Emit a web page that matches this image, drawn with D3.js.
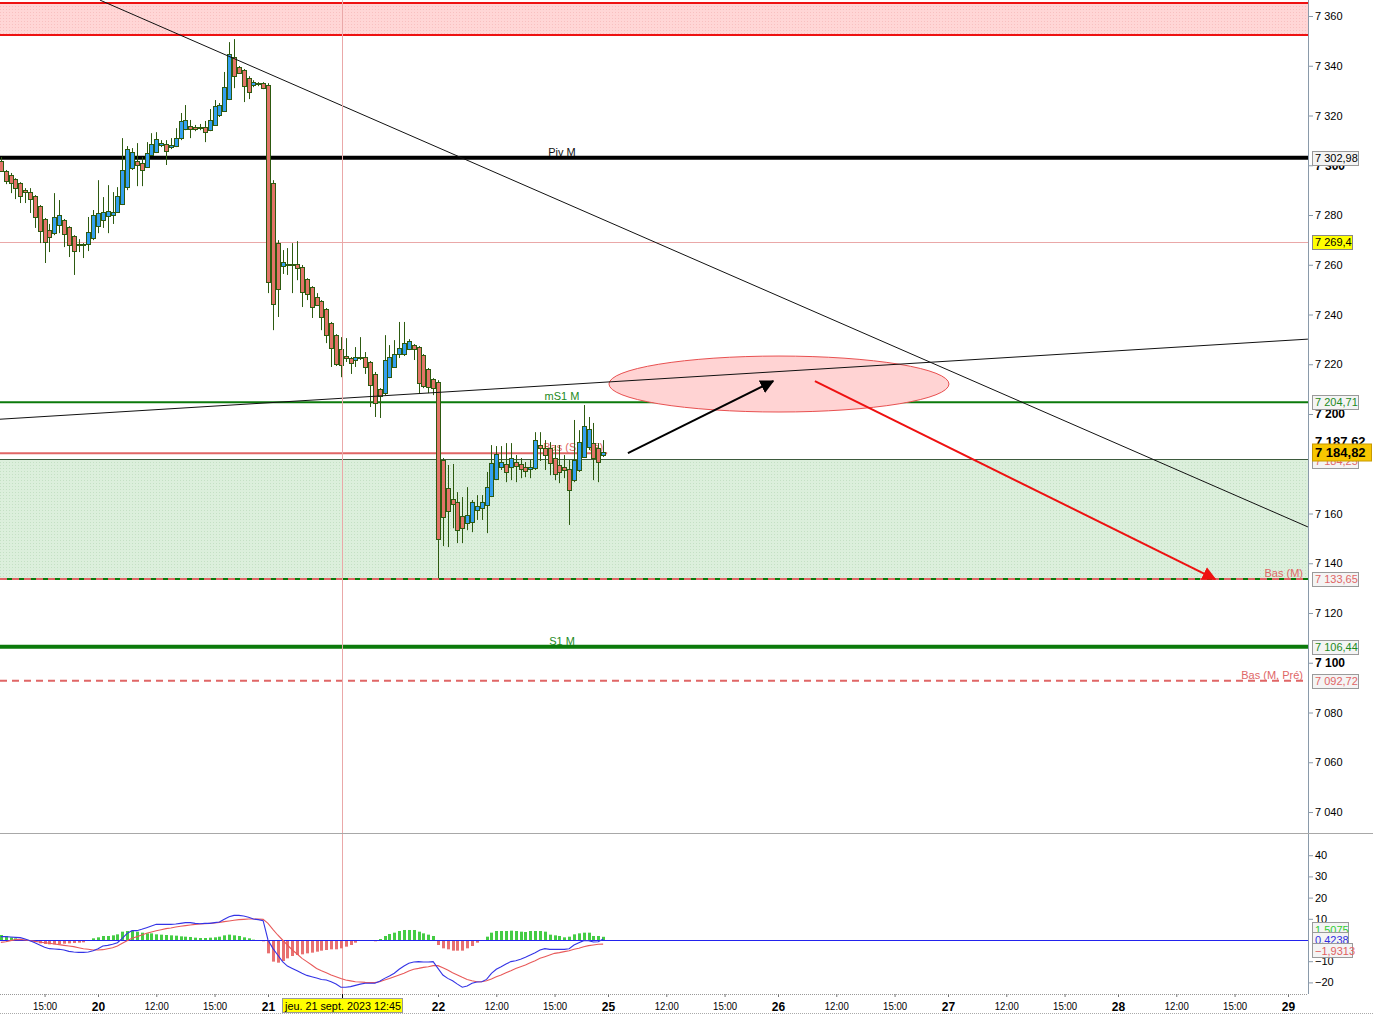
<!DOCTYPE html>
<html><head><meta charset="utf-8">
<script src="https://cdn.jsdelivr.net/npm/d3@7"></script>
<style>
body{margin:0;background:#fff;}
svg{display:block;font-family:"Liberation Sans",Arial,sans-serif;}
</style>
</head><body>
<svg id="chart" width="1373" height="1014"></svg>
<script>
// ---------------- DATA ----------------
const days = ["19","20","21","22","25","26","27","28","29"];
const slotsPerDay = 35;                 // 15-min bars, 09:00 .. 17:30
const intradayTickSlots = [12, 24];
const intradayTickLabels = ["12:00", "15:00"];
const firstSlot = 15;                   // mar. 19 sept. 12:45
const priceTicks = [7040,7060,7080,7100,7120,7140,7160,7200,7220,7240,7260,7280,7300,7320,7340,7360];
const macdTicks = [-20,-10,10,20,30,40];

const opens = [7301.7,7297.7,7296.1,7294.4,7292.8,7290.0,7289.2,7287.6,7283.6,7278.4,7273.9,7272.7,7276.0,7278.0,7275.1,7271.5,7267.9,7268.3,7268.3,7270.7,
7275.5,7278.0,7279.6,7280.0,7281.2,7284.4,7291.2,7298.9,7301.7,7300.9,7299.3,7304.1,7305.3,7308.1,7308.5,7307.3,7307.7,7310.9,7314.5,7315.8,7315.3,7314.9,7315.3,7314.1,7316.2,7320.2,7321.8,7326.6,7343.5,7339.5,7338.3,7335.0,7332.2,7332.6,7333.0,
7332.2,7292.8,7268.7,7259.5,7259.9,7260.3,7260.3,7259.1,7254.2,7251.0,7247.0,7245.4,7242.2,7236.6,7231.7,7226.1,7223.3,7222.5,7221.7,7222.5,7222.9,7220.9,7216.1,7210.0,7208.4,7214.8,7218.9,7224.1,7224.1,7226.1,7227.7,7226.9,7223.7,7218.1,7214.0,
7212.8,7181.5,7170.2,7165.8,7164.6,7159.0,7156.2,7156.6,7161.4,7162.2,7163.4,7167.0,7173.8,7178.7,7179.9,7178.7,7180.7,7179.9,7178.7,7177.9,7178.3,7187.5,7186.3,7186.3,7182.3,7179.5,7178.7,7177.9,7173.4,7177.5,7182.7,7186.7,7188.3,7186.3,7183.5];
const highs = [7303.3,7298.1,7296.9,7294.8,7293.2,7290.8,7290.8,7288.0,7284.0,7278.8,7276.4,7288.8,7286.0,7278.4,7275.5,7271.9,7270.3,7268.7,7279.2,7282.0,
7294.0,7287.2,7292.0,7289.2,7291.2,7310.9,7307.7,7306.9,7308.9,7303.3,7309.3,7312.9,7313.3,7310.1,7310.1,7310.9,7314.9,7321.0,7324.2,7318.2,7316.2,7316.6,7317.8,7322.6,7326.2,7325.0,7337.5,7349.5,7350.7,7339.9,7338.7,7335.8,7334.2,7333.4,7333.4,
7333.0,7294.0,7269.9,7265.9,7266.7,7268.7,7269.5,7259.9,7254.6,7251.4,7248.6,7245.8,7242.6,7237.0,7232.1,7230.9,7230.5,7222.9,7226.9,7230.9,7224.9,7221.3,7216.9,7210.4,7231.7,7227.7,7229.7,7237.0,7237.0,7230.1,7228.1,7227.3,7224.1,7218.5,7214.4,
7213.6,7182.3,7179.5,7179.9,7168.6,7166.6,7170.6,7165.4,7167.4,7167.4,7176.7,7187.5,7187.1,7187.1,7188.3,7188.3,7183.5,7182.3,7180.7,7181.5,7192.7,7192.7,7189.5,7188.7,7187.5,7187.5,7183.5,7181.5,7197.6,7193.5,7203.6,7198.8,7196.4,7188.3,7189.5];
const lows = [7297.3,7292.4,7288.8,7286.4,7284.8,7284.8,7280.8,7274.8,7268.7,7260.7,7265.1,7271.9,7272.7,7267.1,7263.1,7255.9,7265.1,7262.7,7265.5,7269.9,
7272.7,7274.8,7272.7,7276.4,7280.8,7284.0,7290.0,7298.1,7291.6,7291.6,7298.9,7303.7,7304.9,7307.3,7300.1,7306.5,7307.3,7310.1,7314.1,7310.9,7313.7,7314.1,7309.3,7313.7,7315.8,7319.4,7321.4,7326.2,7331.0,7336.7,7325.4,7326.6,7331.4,7331.8,7330.6,
7248.6,7233.7,7239.0,7256.3,7255.9,7248.6,7253.8,7243.0,7245.8,7238.6,7243.4,7233.7,7228.5,7218.9,7219.3,7214.8,7220.9,7216.1,7218.9,7221.7,7216.1,7202.8,7198.8,7198.4,7207.6,7214.4,7218.5,7222.5,7223.3,7225.7,7221.7,7208.4,7210.4,7208.4,7207.6,
7134.0,7146.9,7146.5,7154.1,7148.1,7148.1,7153.3,7152.5,7157.4,7157.4,7152.1,7166.6,7173.4,7177.5,7172.6,7173.4,7172.6,7174.2,7174.6,7174.2,7177.5,7181.1,7177.5,7175.4,7173.4,7172.2,7174.2,7155.4,7172.6,7176.7,7182.3,7185.5,7173.4,7172.6,7182.7];
const closes = [7297.7,7293.6,7292.8,7290.8,7287.6,7289.2,7286.4,7279.2,7273.5,7269.1,7271.1,7279.2,7280.0,7272.3,7267.9,7265.5,7268.3,7267.9,7273.1,7280.0,
7280.8,7281.2,7281.6,7281.2,7287.6,7298.1,7306.5,7305.3,7300.1,7298.1,7304.9,7308.5,7310.5,7308.9,7305.7,7308.1,7310.9,7317.8,7318.2,7314.5,7314.5,7315.3,7313.3,7318.2,7323.8,7324.2,7331.4,7344.7,7335.8,7337.1,7331.8,7329.4,7333.4,7333.0,7331.0,
7253.0,7244.2,7250.2,7261.1,7260.3,7259.9,7258.7,7249.0,7248.2,7243.0,7243.8,7239.0,7231.7,7226.5,7220.1,7219.7,7222.5,7220.5,7222.9,7222.9,7218.9,7211.6,7204.4,7207.2,7221.7,7222.9,7224.1,7226.5,7228.5,7229.3,7226.1,7212.4,7211.2,7210.8,7210.4,
7149.7,7158.6,7161.0,7163.8,7153.3,7154.1,7159.4,7164.6,7163.0,7164.6,7170.6,7180.3,7183.9,7180.7,7176.7,7182.3,7179.1,7177.9,7177.1,7178.7,7189.5,7186.3,7183.5,7180.3,7175.8,7176.7,7177.5,7169.4,7181.5,7188.7,7195.1,7193.9,7182.3,7180.7,7184.82];

const macdLine = [1.57,1.57,1.42,1.26,1.10,0.47,-0.31,-1.26,-2.36,-3.46,-4.09,-4.25,-4.40,-4.72,-5.35,-5.66,-5.82,-5.82,-5.66,-5.03,
-4.09,-2.83,-2.52,-2.04,-1.26,0.79,3.14,4.40,4.40,5.03,5.82,6.60,7.39,7.39,7.39,7.39,7.55,7.86,8.18,8.18,7.86,7.70,7.86,7.86,8.18,8.49,9.75,11.0,11.6,11.6,11.3,10.7,9.9,9.6,9.1,
0.0,-3.93,-7.08,-10.2,-12.3,-13.4,-14.5,-15.7,-16.7,-17.3,-17.9,-18.6,-18.9,-19.7,-20.8,-22.3,-22.3,-22.0,-21.4,-20.8,-20.4,-20.4,-20.4,-19.5,-18.1,-17.0,-15.7,-13.8,-12.3,-11.0,-10.4,-10.2,-10.4,-10.4,-10.2,
-13.4,-16.5,-18.1,-19.2,-20.8,-22.3,-21.7,-20.4,-19.8,-19.7,-18.6,-15.7,-13.8,-12.6,-11.3,-10.2,-9.75,-9.12,-8.18,-7.08,-5.97,-4.72,-4.09,-4.40,-4.40,-4.40,-4.40,-4.09,-2.36,-1.26,-0.31,-0.31,-0.94,-0.79,0.4238];
const signalLine = [-1.10,-0.79,-0.31,0.16,0.31,0,-0.31,-0.63,-0.94,-1.26,-1.57,-1.89,-2.20,-2.52,-2.83,-3.14,-3.62,-4.09,-4.40,-4.72,
-4.72,-4.56,-4.09,-3.62,-2.83,-1.57,-0.31,0.79,1.57,2.36,3.14,3.77,4.40,4.87,5.35,5.66,6.13,6.45,6.76,7.08,7.39,7.55,7.70,7.86,8.02,8.33,8.65,8.96,9.28,9.59,9.75,9.91,9.91,9.91,9.75,
7.86,5.03,2.36,0,-2.36,-4.72,-6.60,-8.65,-10.2,-11.8,-13.4,-14.5,-15.4,-16.5,-17.3,-18.2,-18.9,-19.3,-19.7,-19.8,-20.0,-20.1,-20.1,-19.7,-18.9,-18.2,-17.3,-16.5,-15.7,-14.6,-13.8,-13.4,-12.9,-12.6,-12.1,
-12.1,-13.1,-14.2,-15.4,-16.5,-17.6,-18.6,-19.2,-19.7,-19.7,-19.2,-18.4,-17.3,-16.5,-15.4,-14.5,-13.4,-12.6,-11.8,-10.7,-9.75,-8.65,-7.86,-7.08,-6.29,-5.97,-5.50,-5.03,-4.40,-3.93,-3.14,-2.67,-2.36,-2.04,-1.9313];
const histogram = [2.36,1.89,1.26,0.79,0.47,0.16,-0.31,-0.94,-1.57,-1.89,-2.04,-2.04,-1.89,-1.73,-1.57,-1.42,-1.26,-1.10,0,0.79,
1.26,1.89,1.89,2.20,2.67,3.93,4.25,4.25,3.93,3.46,3.14,3.14,2.67,2.52,2.36,2.20,2.04,1.73,1.57,1.42,1.10,0.94,0.94,1.10,1.26,1.57,2.20,2.52,2.20,1.89,1.26,0.79,0.16,-0.47,-0.63,
-6.29,-10.2,-10.7,-9.91,-8.65,-7.55,-7.08,-6.76,-6.29,-5.97,-5.50,-5.03,-4.72,-4.40,-4.40,-3.93,-3.14,-2.36,-1.26,-0.47,-0.16,-0.16,-0.63,0.47,1.89,2.83,3.46,4.25,4.72,4.72,4.72,3.93,3.14,2.52,1.89,
-2.36,-3.93,-4.40,-5.03,-5.03,-5.03,-3.93,-2.83,-1.26,-0.31,1.57,3.46,4.25,4.25,4.25,4.40,4.25,3.93,3.77,4.25,4.25,4.25,3.93,2.52,2.20,1.89,1.26,1.57,2.67,3.14,3.46,3.46,1.89,1.89,1.5075];

const levelNames  = ["Piv M", "mS1 M", "S1 M", "Bas (M)", "Bas (M, Pré)", "Bas (S, Pré)"];
const levelValues = [7302.98, 7204.71, 7106.44, 7133.65, 7092.72, 7184.25];
const resistanceZone = [7352.4, 7365.2];
const supportZone = [7133.65, 7181.8];
const trendDown = [[35.4, 7366.4], [284.1, 7154.6]];
const trendUp = [[14.8, 7197.9], [284.1, 7230.1]];
const targetSlots = [140.2, 210.2];
const targetPrices = [7200.8, 7223.3];
const arrowUp = [[144.1, 7184.3], [174.0, 7213.2]];
const arrowDown = [[182.6, 7213.2], [265.0, 7133.65]];
const cursorSlot = 85, cursorPrice = 7269.4, cursorLabel = "jeu. 21 sept. 2023 12:45";
const lastPrice = 7184.82, otherPrice = 7187.62;

// ---------------- DRAW ----------------
const svg = d3.select("#chart");
const W = 1373, plotR = 1308, mainB = 833, macdT = 835, macdB = 994;
const loc = d3.formatLocale({decimal: ",", thousands: "\u00a0", grouping: [3], currency: ["", ""]});
const f0 = loc.format(",.0f"), f2 = loc.format(",.2f"), f1 = loc.format(",.1f"), f4 = loc.format(".4f");

const x = d3.scaleLinear().domain([0, days.length * slotsPerDay]).range([-72, -72 + days.length * 170]);
const y = d3.scaleLinear().domain([7040, 7360]).range([812, 16]);
const ym = d3.scaleLinear().domain([-20, 40]).range([982.4, 855.2]);

const defs = svg.append("defs");
defs.append("clipPath").attr("id", "clipMain").append("rect").attr("x", 0).attr("y", 0).attr("width", plotR).attr("height", mainB);
defs.append("clipPath").attr("id", "clipMacd").append("rect").attr("x", 0).attr("y", macdT).attr("width", plotR).attr("height", macdB - macdT);
const gp = defs.append("pattern").attr("id", "greenDots").attr("width", 3).attr("height", 3).attr("patternUnits", "userSpaceOnUse");
gp.append("rect").attr("width", 3).attr("height", 3).attr("fill", "#dcefdc");
gp.append("rect").attr("width", 1).attr("height", 1).attr("fill", "#c4e0c4");
const pp = defs.append("pattern").attr("id", "pinkDots").attr("width", 3).attr("height", 3).attr("patternUnits", "userSpaceOnUse");
pp.append("rect").attr("width", 3).attr("height", 3).attr("fill", "#ffd6d6");
pp.append("rect").attr("width", 1).attr("height", 1).attr("fill", "#f8c0c0");
function marker(id, color) {
  defs.append("marker").attr("id", id).attr("viewBox", "0 0 10 10").attr("refX", 9).attr("refY", 5)
    .attr("markerWidth", 7).attr("markerHeight", 7).attr("markerUnits", "strokeWidth").attr("orient", "auto")
    .append("path").attr("d", "M0,0 L10,5 L0,10 z").attr("fill", color);
}
marker("arrBlack", "#000"); marker("arrRed", "#ee1111");

const main = svg.append("g").attr("clip-path", "url(#clipMain)");
const lv = name => levelValues[levelNames.indexOf(name)];

// zones
main.append("rect").attr("x", 0).attr("width", plotR)
  .attr("y", y(resistanceZone[1])).attr("height", y(resistanceZone[0]) - y(resistanceZone[1])).attr("fill", "url(#pinkDots)");
resistanceZone.forEach(v => main.append("line").attr("x1", 0).attr("x2", plotR).attr("y1", y(v)).attr("y2", y(v))
  .attr("stroke", "#ee1111").attr("stroke-width", 2));
main.append("rect").attr("x", 0).attr("width", plotR)
  .attr("y", y(supportZone[1])).attr("height", y(supportZone[0]) - y(supportZone[1])).attr("fill", "url(#greenDots)");
main.append("line").attr("x1", 0).attr("x2", plotR).attr("y1", Math.round(y(supportZone[1])) + 0.5).attr("y2", Math.round(y(supportZone[1])) + 0.5)
  .attr("stroke", "#3d5a3d").attr("stroke-width", 1);

// crosshair
main.append("line").attr("x1", 0).attr("x2", plotR).attr("y1", Math.round(y(cursorPrice)) + 1.5).attr("y2", Math.round(y(cursorPrice)) + 1.5)
  .attr("stroke", "#eaa8a8").attr("stroke-width", 1);
svg.append("line").attr("x1", Math.round(x(cursorSlot)) + 1.5).attr("x2", Math.round(x(cursorSlot)) + 1.5).attr("y1", 0).attr("y2", macdB)
  .attr("stroke", "#eaa8a8").attr("stroke-width", 1);

// level lines
function hline(v, color, w, dash, x2) {
  const yy = y(v);
  main.append("line").attr("x1", 0).attr("x2", x2 || plotR).attr("y1", yy).attr("y2", yy)
    .attr("stroke", color).attr("stroke-width", w).attr("stroke-dasharray", dash || null);
}
hline(lv("Piv M"), "#000", 4);
hline(lv("mS1 M"), "#0b7a0b", 2);
hline(lv("S1 M"), "#0b7a0b", 4);
hline(supportZone[0], "#0b7a0b", 2);
hline(lv("Bas (M)"), "#e06666", 2, "7,5");
hline(lv("Bas (M, Pré)"), "#e06666", 2, "7,5");
const lastX = x(firstSlot + closes.length - 1);
hline(lv("Bas (S, Pré)"), "#e06666", 2, null, lastX + 4);

// level labels
function ltext(txt, xx, yy, color, anchor) {
  main.append("text").attr("x", xx).attr("y", yy).attr("text-anchor", anchor || "middle")
    .attr("font-size", 11).attr("fill", color).text(txt);
}
ltext("Piv M", 562, y(lv("Piv M")) - 2, "#111");
ltext("mS1 M", 562, y(lv("mS1 M")) - 2, "#1d8a1d");
ltext("S1 M", 562, y(lv("S1 M")) - 2, "#1d8a1d");
ltext("Bas (M)", 1303, y(lv("Bas (M)")) - 2, "#e06666", "end");
ltext("Bas (M, Pré)", 1303, y(lv("Bas (M, Pré)")) - 2, "#e06666", "end");
ltext("Bas (S, Pré)", lastX, y(lv("Bas (S, Pré)")) - 2, "#e06666", "end");

// target ellipse
main.append("ellipse")
  .attr("cx", (x(targetSlots[0]) + x(targetSlots[1])) / 2).attr("cy", (y(targetPrices[0]) + y(targetPrices[1])) / 2)
  .attr("rx", (x(targetSlots[1]) - x(targetSlots[0])) / 2).attr("ry", (y(targetPrices[0]) - y(targetPrices[1])) / 2)
  .attr("fill", "#ffd3d3").attr("stroke", "#e85050").attr("stroke-width", 1);

// candles
const cg = main.append("g");
closes.forEach((c, i) => {
  const o = opens[i], h = highs[i], l = lows[i];
  const cx = Math.round(x(firstSlot + i)) + 0.5;
  const up = c >= o;
  cg.append("line").attr("x1", cx).attr("x2", cx).attr("y1", y(h)).attr("y2", y(l))
    .attr("stroke", "#2d5a10").attr("stroke-width", 1);
  const t = Math.round(y(Math.max(o, c))) + 0.5, b = Math.round(y(Math.min(o, c))) + 0.5;
  cg.append("rect").attr("x", cx - 2).attr("width", 4).attr("y", t).attr("height", Math.max(1, b - t))
    .attr("fill", up ? "#33a0f0" : "#e27468").attr("stroke", "#2d5a10").attr("stroke-width", 1);
});

// trend lines
[trendDown, trendUp].forEach(t => main.append("line")
  .attr("x1", x(t[0][0])).attr("y1", y(t[0][1])).attr("x2", x(t[1][0])).attr("y2", y(t[1][1]))
  .attr("stroke", "#111").attr("stroke-width", 1));

// arrows
main.append("line").attr("x1", x(arrowUp[0][0])).attr("y1", y(arrowUp[0][1])).attr("x2", x(arrowUp[1][0])).attr("y2", y(arrowUp[1][1]))
  .attr("stroke", "#000").attr("stroke-width", 2).attr("marker-end", "url(#arrBlack)");
main.append("line").attr("x1", x(arrowDown[0][0])).attr("y1", y(arrowDown[0][1])).attr("x2", x(arrowDown[1][0])).attr("y2", y(arrowDown[1][1]))
  .attr("stroke", "#ee1111").attr("stroke-width", 2).attr("marker-end", "url(#arrRed)");

// ---------- MACD panel ----------
const mg = svg.append("g").attr("clip-path", "url(#clipMacd)");
histogram.forEach((v, i) => {
  const cx = Math.round(x(firstSlot + i));
  const y0 = ym(0), y1 = ym(v);
  mg.append("rect").attr("x", cx - 1).attr("width", 3).attr("y", Math.min(y0, y1)).attr("height", Math.abs(y1 - y0))
    .attr("fill", v >= 0 ? "#44cc44" : "#e87070");
});
mg.append("line").attr("x1", 0).attr("x2", plotR).attr("y1", Math.round(ym(0)) + 0.5).attr("y2", Math.round(ym(0)) + 0.5)
  .attr("stroke", "#2222ee").attr("stroke-width", 1);
const ln = d3.line().x((d, i) => x(firstSlot + i)).y(d => ym(d));
mg.append("path").attr("d", ln(signalLine)).attr("fill", "none").attr("stroke", "#e85a5a").attr("stroke-width", 1.1);
mg.append("path").attr("d", ln(macdLine)).attr("fill", "none").attr("stroke", "#3434e6").attr("stroke-width", 1.1);

// ---------- frames ----------
svg.append("line").attr("x1", plotR + 0.5).attr("x2", plotR + 0.5).attr("y1", 0).attr("y2", macdB).attr("stroke", "#8a9aaa");
svg.append("line").attr("x1", 0).attr("x2", W).attr("y1", mainB + 0.5).attr("y2", mainB + 0.5).attr("stroke", "#a8a8a8");
svg.append("line").attr("x1", 0).attr("x2", plotR).attr("y1", macdB + 0.5).attr("y2", macdB + 0.5).attr("stroke", "#999").attr("stroke-dasharray", "1,1");
svg.append("line").attr("x1", 0).attr("x2", W).attr("y1", 1013.5).attr("y2", 1013.5).attr("stroke", "#aaa").attr("stroke-dasharray", "1,1");

// ---------- price axis ----------
const yAxis = svg.append("g").attr("transform", `translate(${plotR},0)`)
  .call(d3.axisRight(y).tickValues(priceTicks).tickSize(5).tickPadding(2).tickFormat(f0));
yAxis.select(".domain").remove();
yAxis.selectAll(".tick line").attr("stroke", "#8a9aaa");
yAxis.selectAll(".tick text").attr("font-size", d => d % 100 === 0 ? 12 : 11)
  .attr("font-weight", d => d % 100 === 0 ? "bold" : "normal")
  .attr("font-family", "Liberation Sans, Arial, sans-serif").attr("fill", "#000");

function tag(v, txt, opt) {
  const yy = Math.round(y(v)) + (opt.dy || 0);
  const h = opt.h || 14;
  svg.append("rect").attr("x", plotR + 4.5).attr("y", yy - h / 2 + 0.5).attr("width", opt.w).attr("height", h)
    .attr("fill", opt.bg).attr("stroke", opt.border || "#9a9a9a");
  svg.append("text").attr("x", plotR + 7).attr("y", yy + (opt.fs || 11) * 0.36 + 0.5)
    .attr("font-size", opt.fs || 11).attr("font-weight", opt.bold ? "bold" : "normal")
    .attr("fill", opt.color).text(txt);
}
tag(lv("Piv M"), f2(lv("Piv M")), {w: 46, bg: "#f4f4f4", color: "#000"});
tag(cursorPrice, f1(cursorPrice), {w: 40, bg: "#ffff00", color: "#000", border: "#888", dy: 1});
tag(lv("mS1 M"), f2(lv("mS1 M")), {w: 46, bg: "#f4f4f4", color: "#1d8a1d"});
tag(lv("Bas (S, Pré)"), f2(lv("Bas (S, Pré)")), {w: 46, bg: "#f4f4f4", color: "#e06666", dy: 8});
tag(otherPrice, f2(otherPrice), {w: 59, h: 16, bg: "#fff", color: "#000", bold: true, fs: 13, border: "#fff", dy: -4});
tag(lastPrice, f2(lastPrice), {w: 59, h: 17, bg: "#f7c600", color: "#000", bold: true, fs: 13, border: "#c89a00"});
tag(lv("Bas (M)"), f2(lv("Bas (M)")), {w: 46, bg: "#f4f4f4", color: "#e06666"});
tag(lv("S1 M"), f2(lv("S1 M")), {w: 46, bg: "#f4f4f4", color: "#1d8a1d"});
tag(lv("Bas (M, Pré)"), f2(lv("Bas (M, Pré)")), {w: 46, bg: "#f4f4f4", color: "#e06666"});

// ---------- MACD axis ----------
const mAxis = svg.append("g").attr("transform", `translate(${plotR},0)`)
  .call(d3.axisRight(ym).tickValues(macdTicks).tickSize(5).tickPadding(2).tickFormat(d3.format("d")));
mAxis.select(".domain").remove();
mAxis.selectAll(".tick line").attr("stroke", "#8a9aaa");
mAxis.selectAll(".tick text").attr("font-size", 11).attr("font-family", "Liberation Sans, Arial, sans-serif").attr("fill", "#000");
function mtag(v, dy, txt, color, w) {
  const yy = Math.round(ym(v)) + dy;
  svg.append("rect").attr("x", plotR + 4.5).attr("y", yy - 6.5).attr("width", w).attr("height", 14)
    .attr("fill", "#f4f4f4").attr("stroke", "#9a9a9a");
  svg.append("text").attr("x", plotR + 7).attr("y", yy + 4.5).attr("font-size", 11).attr("fill", color).text(txt);
}
const hLast = histogram[histogram.length - 1], mLast = macdLine[macdLine.length - 1], sLast = signalLine[signalLine.length - 1];
mtag(hLast, -8, f4(hLast), "#33cc33", 36);
mtag(mLast, 0, f4(mLast), "#3030e0", 36);
mtag(sLast, 6, loc.format(".4f")(sLast), "#e06060", 40);

// ---------- time axis ----------
const tickSlots = [], tickLabels = [], tickBold = [];
days.forEach((d, k) => {
  tickSlots.push(k * slotsPerDay); tickLabels.push(d); tickBold.push(true);
  intradayTickSlots.forEach((s, j) => { tickSlots.push(k * slotsPerDay + s); tickLabels.push(intradayTickLabels[j]); tickBold.push(false); });
});
const cxl = Math.round(x(cursorSlot)) + 1;
const visible = tickSlots.map((s, i) => i).filter(i => {
  const px = x(tickSlots[i]);
  return px > 20 && px < plotR - 5 && Math.abs(px - cxl) > 60;
});
const xAxis = svg.append("g").attr("transform", `translate(0,${macdB})`)
  .call(d3.axisBottom(x).tickValues(visible.map(i => tickSlots[i])).tickSize(3).tickPadding(5)
    .tickFormat(s => tickLabels[tickSlots.indexOf(s)]));
xAxis.select(".domain").remove();
xAxis.selectAll(".tick line").attr("stroke", "#777");
xAxis.selectAll(".tick text").attr("font-family", "Liberation Sans, Arial, sans-serif").attr("fill", "#000")
  .attr("font-size", s => tickBold[tickSlots.indexOf(s)] ? 12 : 11)
  .attr("font-weight", s => tickBold[tickSlots.indexOf(s)] ? "bold" : "normal")
  .attr("textLength", s => tickBold[tickSlots.indexOf(s)] ? null : 24).attr("lengthAdjust", "spacingAndGlyphs");

// cursor date label
svg.append("rect").attr("x", cxl - 59.5).attr("y", 998.5).attr("width", 120).attr("height", 14)
  .attr("fill", "#ffff00").attr("stroke", "#999");
svg.append("line").attr("x1", cxl + 0.5).attr("x2", cxl + 0.5).attr("y1", macdB).attr("y2", 998).attr("stroke", "#000");
svg.append("text").attr("x", cxl - 57).attr("y", 1010).attr("font-size", 11).attr("textLength", 116).attr("lengthAdjust", "spacingAndGlyphs")
  .attr("fill", "#000").text(cursorLabel);
</script>
</body></html>
